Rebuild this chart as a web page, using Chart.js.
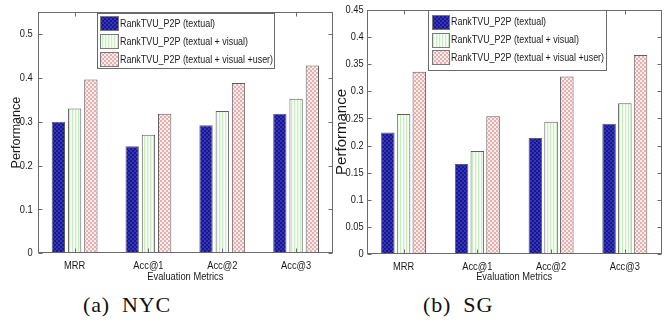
<!DOCTYPE html>
<html><head><meta charset="utf-8">
<script src="https://cdn.jsdelivr.net/npm/chart.js@4.4.1/dist/chart.umd.min.js"></script>
<style>
body{margin:0;width:668px;height:324px;background:#fff;position:relative;overflow:hidden}
canvas{position:absolute;top:0}
.cap{position:absolute;top:294px;font-family:'Liberation Serif','Times New Roman',serif;font-size:22px;line-height:22px;letter-spacing:0.8px;word-spacing:6px;color:#111;white-space:nowrap}
</style></head><body>
<canvas id="nyc" width="334" height="290" style="left:0"></canvas>
<canvas id="sg" width="334" height="290" style="left:334px"></canvas>
<div class="cap" style="left:83px">(a) NYC</div>
<div class="cap" style="left:423px">(b) SG</div>
<script>
// ---- data ----
const categories = ['MRR', 'Acc@1', 'Acc@2', 'Acc@3'];
const seriesNames = ['RankTVU_P2P (textual)', 'RankTVU_P2P (textual + visual)', 'RankTVU_P2P (textual + visual +user)'];
const nycTextual = [0.300, 0.244, 0.292, 0.318];
const nycTextualVisual = [0.330, 0.270, 0.324, 0.352];
const nycTextualVisualUser = [0.396, 0.318, 0.388, 0.428];
const sgTextual = [0.224, 0.166, 0.214, 0.240];
const sgTextualVisual = [0.258, 0.190, 0.244, 0.278];
const sgTextualVisualUser = [0.336, 0.254, 0.327, 0.367];
const nycTickLabels = ['0', '0.1', '0.2', '0.3', '0.4', '0.5'];
const sgTickLabels = ['0', '0.05', '0.1', '0.15', '0.2', '0.25', '0.3', '0.35', '0.4', '0.45'];
const nycMax = 0.55;
const sgMax = 0.45;
const yTitle = 'Performance';
const xTitle = 'Evaluation Metrics';

// condensed text rendering (no narrow font installed): squeeze glyphs horizontally around the anchor
const NARROW = 0.81;
const origFill = CanvasRenderingContext2D.prototype.fillText;
CanvasRenderingContext2D.prototype.fillText = function (t, x, y, mw) {
  if (this.font.indexOf('Narrow') < 0) {
    return mw === undefined ? origFill.call(this, t, x, y) : origFill.call(this, t, x, y, mw);
  }
  this.save(); this.translate(x, y); this.scale(NARROW, 1);
  if (mw === undefined) origFill.call(this, t, 0, 0); else origFill.call(this, t, 0, 0, mw / NARROW);
  this.restore();
};

// ---- patterns ----
function makePattern(w, h, fn) {
  const c = document.createElement('canvas'); c.width = w; c.height = h;
  const g = c.getContext('2d'); fn(g);
  return g.createPattern(c, 'repeat');
}
const bluePat = makePattern(4, 4, g => {
  g.fillStyle = '#18188a'; g.fillRect(0, 0, 4, 4);
  g.fillStyle = '#3434bc'; g.fillRect(0, 0, 2, 2); g.fillRect(2, 2, 2, 2);
});
const greenPat = makePattern(3, 1, g => {
  g.fillStyle = '#ffffff'; g.fillRect(0, 0, 3, 1);
  g.fillStyle = '#c6efbd'; g.fillRect(0, 0, 1, 1);
  g.fillStyle = '#ecfbe8'; g.fillRect(1, 0, 1, 1);
});
const pinkPat = makePattern(4, 4, g => {
  g.fillStyle = '#fbecec'; g.fillRect(0, 0, 4, 4);
  g.fillStyle = '#e6b0b0'; g.fillRect(0, 0, 2, 2); g.fillRect(2, 2, 2, 2);
});
const patterns = [bluePat, greenPat, pinkPat];

const FONT = "'Liberation Sans Narrow','Liberation Sans',Arial,sans-serif";
Chart.defaults.font.family = FONT;
Chart.defaults.color = '#1a1a1a';

const framePlugin = {
  id: 'frame',
  afterDatasetsDraw(chart, args, o) {
    const { ctx, chartArea: a, scales: { x, y } } = chart;
    ctx.save();
    ctx.strokeStyle = '#6a6a6a'; ctx.lineWidth = 1;
    const L = Math.round(a.left) + 0.5, R = Math.round(a.right) - 0.5;
    const T = Math.round(a.top) + 0.5, B = Math.round(a.bottom) - 0.5;
    ctx.strokeRect(L, T, R - L, B - T);
    ctx.beginPath();
    y.ticks.forEach(t => {
      const py = Math.round(y.getPixelForValue(t.value)) + 0.5;
      ctx.moveTo(L, py); ctx.lineTo(L + 4, py);
      ctx.moveTo(R, py); ctx.lineTo(R - 4, py);
    });
    x.ticks.forEach((t, i) => {
      const px = Math.round(x.getPixelForTick(i)) + 0.5;
      ctx.moveTo(px, B); ctx.lineTo(px, B - 4);
      ctx.moveTo(px, T); ctx.lineTo(px, T + 4);
    });
    ctx.stroke();
    // legend
    const bx = Math.round(a.left + o.dx) + 0.5, by = Math.round(o.top) + 0.5;
    ctx.fillStyle = '#fff';
    ctx.fillRect(bx, by, o.w, o.h);
    ctx.strokeStyle = '#6a6a6a';
    ctx.strokeRect(bx, by, o.w, o.h);
    ctx.font = "11px " + FONT;
    ctx.textBaseline = 'middle'; ctx.textAlign = 'left';
    chart.data.datasets.forEach((ds, i) => {
      const cy = o.rows[i];
      const sx = Math.round(bx + o.sx), sy = Math.round(cy - o.sh / 2);
      ctx.fillStyle = ds.backgroundColor;
      ctx.fillRect(sx, sy, o.sw, o.sh);
      ctx.strokeStyle = '#7a7a7a';
      ctx.strokeRect(sx + 0.5, sy + 0.5, o.sw - 1, o.sh - 1);
      ctx.fillStyle = '#1a1a1a';
      ctx.fillText(ds.label, sx + o.sw + 1, cy);
    });
    ctx.restore();
  }
};

function makeChart(id, series, tickLabels, maxV, cfg) {
  const tickVals = tickLabels.map(Number);
  return new Chart(document.getElementById(id), {
    type: 'bar',
    data: {
      labels: categories,
      datasets: series.map((d, i) => ({
        label: seriesNames[i], data: d,
        backgroundColor: patterns[i], borderColor: '#5e5e5e', borderWidth: 1,
        categoryPercentage: cfg.cat, barPercentage: cfg.bar
      }))
    },
    options: {
      responsive: false, animation: false,
      layout: { padding: cfg.pad },
      plugins: { legend: { display: false }, tooltip: { enabled: false }, frame: cfg.legend },
      scales: {
        x: {
          grid: { display: false, drawTicks: false }, border: { display: false },
          ticks: { font: { size: 11.5 }, padding: 6, color: '#1a1a1a' },
          title: { display: true, text: xTitle, font: { size: 11.5, lineHeight: 1 }, padding: { top: 0, bottom: 7.5 }, color: '#1a1a1a' },
          afterFit(s) { s.height = cfg.xh; }
        },
        y: {
          min: 0, max: maxV,
          grid: { display: false, drawTicks: false }, border: { display: false },
          afterBuildTicks(s) { s.ticks = tickVals.map(v => ({ value: v })); },
          ticks: { font: { size: 11.5 }, padding: cfg.ypad, color: '#1a1a1a',
            callback: (v) => tickLabels[tickVals.indexOf(v)] },
          title: { display: true, text: yTitle, font: { family: "'Liberation Sans',Arial,sans-serif", size: cfg.ytSize, lineHeight: 1 }, padding: { top: cfg.ytTop, bottom: 0 }, color: '#1a1a1a' },
          afterFit(s) { s.width = cfg.yw; }
        }
      }
    },
    plugins: [framePlugin]
  });
}

makeChart('nyc', [nycTextual, nycTextualVisual, nycTextualVisualUser], nycTickLabels, nycMax, {
  cat: 0.66, bar: 0.82, pad: { left: 0, top: 6, right: 1, bottom: 0 }, xh: 36.7, yw: 37.7, ypad: 5,
  ytSize: 12.5, ytTop: 10.4,
  legend: { dx: 59, top: 13, w: 177, h: 55, rows: [23.5, 41.5, 59.5], sx: 2, sw: 19, sh: 15 }
});
makeChart('sg', [sgTextual, sgTextualVisual, sgTextualVisualUser], sgTickLabels, sgMax, {
  cat: 0.64, bar: 0.86, pad: { left: 0, top: 6.5, right: 6.3, bottom: 0 }, xh: 36, yw: 32.7, ypad: 3,
  ytSize: 15, ytTop: 0,
  legend: { dx: 61.6, top: 10, w: 178, h: 60, rows: [22, 40, 57.5], sx: 3, sw: 18, sh: 15 }
});
</script>
</body></html>
